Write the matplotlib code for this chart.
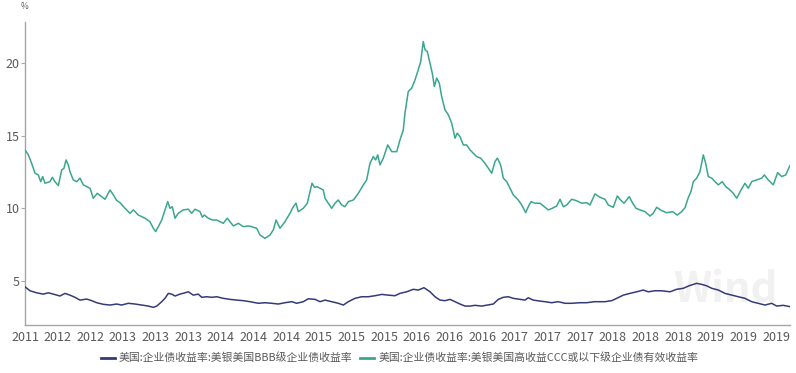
import matplotlib
matplotlib.use("Agg")
import matplotlib.pyplot as plt
import numpy as np

plt.rcParams['font.family'] = ['Noto Sans CJK SC', 'DejaVu Sans']

# ---- data (dates as decimal years, values in %) ----
ccc_year = [
    2012.045, 2012.079, 2012.113, 2012.147, 2012.181, 2012.205, 2012.226, 2012.249, 2012.300, 2012.324,
    2012.351, 2012.385, 2012.420, 2012.443, 2012.464, 2012.487, 2012.504, 2012.538, 2012.573, 2012.607,
    2012.640, 2012.675, 2012.709, 2012.742, 2012.783, 2012.828, 2012.862, 2012.913, 2012.947, 2012.981,
    2013.015, 2013.066, 2013.117, 2013.151, 2013.202, 2013.270, 2013.321, 2013.355, 2013.379, 2013.406,
    2013.441, 2013.474, 2013.502, 2013.525, 2013.549, 2013.576, 2013.610, 2013.661, 2013.712, 2013.747,
    2013.781, 2013.832, 2013.855, 2013.876, 2013.916, 2013.960, 2014.002, 2014.069, 2014.110, 2014.172,
    2014.223, 2014.274, 2014.325, 2014.359, 2014.410, 2014.444, 2014.495, 2014.546, 2014.580, 2014.608,
    2014.648, 2014.699, 2014.750, 2014.784, 2014.812, 2014.835, 2014.886, 2014.927, 2014.955, 2014.975,
    2015.000, 2015.023, 2015.057, 2015.090, 2015.108, 2015.141, 2015.176, 2015.210, 2015.243, 2015.278,
    2015.312, 2015.346, 2015.397, 2015.448, 2015.499, 2015.533, 2015.567, 2015.601, 2015.625, 2015.646,
    2015.669, 2015.703, 2015.748, 2015.789, 2015.840, 2015.873, 2015.907, 2015.924, 2015.958, 2015.993,
    2016.027, 2016.060, 2016.085, 2016.111, 2016.129, 2016.152, 2016.180, 2016.203, 2016.224, 2016.248,
    2016.275, 2016.299, 2016.333, 2016.367, 2016.401, 2016.435, 2016.458, 2016.486, 2016.520, 2016.554,
    2016.588, 2016.622, 2016.656, 2016.697, 2016.741, 2016.775, 2016.810, 2016.843, 2016.867, 2016.894,
    2016.905, 2016.928, 2016.963, 2016.996, 2017.030, 2017.081, 2017.116, 2017.157, 2017.183, 2017.211,
    2017.252, 2017.303, 2017.354, 2017.387, 2017.428, 2017.473, 2017.507, 2017.541, 2017.575, 2017.626,
    2017.677, 2017.728, 2017.779, 2017.813, 2017.864, 2017.915, 2017.966, 2018.000, 2018.051, 2018.092,
    2018.126, 2018.160, 2018.214, 2018.249, 2018.283, 2018.324, 2018.375, 2018.426, 2018.459, 2018.494,
    2018.545, 2018.596, 2018.657, 2018.704, 2018.749, 2018.783, 2018.817, 2018.844, 2018.868, 2018.902,
    2018.936, 2018.970, 2018.994, 2019.021, 2019.056, 2019.089, 2019.123, 2019.164, 2019.198, 2019.242,
    2019.276, 2019.311, 2019.355, 2019.395, 2019.429, 2019.464, 2019.515, 2019.566, 2019.593, 2019.633,
    2019.684, 2019.729, 2019.770, 2019.811, 2019.855,
]
ccc_yield = [
    14.02, 13.68, 13.10, 12.42, 12.30, 11.84, 12.19, 11.73, 11.84, 12.14,
    11.84, 11.57, 12.65, 12.76, 13.33, 12.99, 12.53, 11.96, 11.84, 12.08,
    11.62, 11.50, 11.39, 10.70, 11.04, 10.81, 10.63, 11.27, 10.93, 10.55,
    10.40, 10.01, 9.67, 9.90, 9.55, 9.33, 9.09, 8.64, 8.41, 8.75,
    9.21, 9.90, 10.47, 10.01, 10.12, 9.33, 9.67, 9.90, 9.95, 9.67,
    9.95, 9.78, 9.40, 9.55, 9.33, 9.21, 9.21, 8.98, 9.33, 8.80,
    8.98, 8.75, 8.80, 8.75, 8.64, 8.18, 7.95, 8.18, 8.52, 9.21,
    8.64, 9.09, 9.67, 10.12, 10.36, 9.78, 10.01, 10.36, 11.16, 11.73,
    11.45, 11.50, 11.39, 11.27, 10.70, 10.36, 10.01, 10.36, 10.58, 10.24,
    10.12, 10.47, 10.58, 11.04, 11.62, 11.96, 13.10, 13.56, 13.33, 13.68,
    12.99, 13.45, 14.36, 13.90, 13.90, 14.70, 15.39, 16.54, 18.03, 18.26,
    18.83, 19.52, 20.09, 21.46, 20.89, 20.78, 19.98, 19.29, 18.37, 18.95,
    18.60, 17.68, 16.77, 16.43, 15.86, 14.82, 15.17, 14.93, 14.36, 14.36,
    14.02, 13.79, 13.56, 13.45, 13.10, 12.76, 12.42, 13.22, 13.45, 13.10,
    12.87, 12.08, 11.84, 11.39, 10.93, 10.58, 10.24, 9.71, 10.12, 10.47,
    10.36, 10.36, 10.08, 9.90, 10.01, 10.17, 10.63, 10.12, 10.24, 10.63,
    10.53, 10.36, 10.40, 10.24, 11.00, 10.77, 10.63, 10.24, 10.08, 10.86,
    10.58, 10.36, 10.81, 10.36, 10.01, 9.90, 9.78, 9.48, 9.67, 10.08,
    9.85, 9.71, 9.78, 9.55, 9.78, 10.05, 10.75, 11.16, 11.84, 12.08,
    12.53, 13.68, 13.10, 12.19, 12.08, 11.84, 11.62, 11.84, 11.50, 11.27,
    11.04, 10.70, 11.27, 11.73, 11.39, 11.84, 11.96, 12.08, 12.30, 11.96,
    11.62, 12.46, 12.19, 12.30, 12.95,
]

bbb_year = [
    2012.045, 2012.096, 2012.164, 2012.232, 2012.283, 2012.334, 2012.402, 2012.453, 2012.504, 2012.555,
    2012.607, 2012.675, 2012.726, 2012.777, 2012.844, 2012.913, 2012.981, 2013.032, 2013.100, 2013.168,
    2013.236, 2013.304, 2013.355, 2013.390, 2013.441, 2013.474, 2013.508, 2013.543, 2013.576, 2013.627,
    2013.678, 2013.712, 2013.763, 2013.814, 2013.849, 2013.900, 2013.951, 2014.002, 2014.069, 2014.138,
    2014.206, 2014.274, 2014.342, 2014.427, 2014.495, 2014.564, 2014.631, 2014.699, 2014.768, 2014.819,
    2014.886, 2014.937, 2015.006, 2015.057, 2015.108, 2015.176, 2015.243, 2015.295, 2015.346, 2015.414,
    2015.482, 2015.550, 2015.618, 2015.687, 2015.754, 2015.822, 2015.873, 2015.942, 2016.009, 2016.060,
    2016.118, 2016.180, 2016.231, 2016.282, 2016.333, 2016.384, 2016.435, 2016.486, 2016.537, 2016.588,
    2016.639, 2016.707, 2016.765, 2016.826, 2016.877, 2016.928, 2016.979, 2017.030, 2017.098, 2017.150,
    2017.183, 2017.234, 2017.303, 2017.354, 2017.422, 2017.489, 2017.558, 2017.626, 2017.711, 2017.779,
    2017.857, 2017.915, 2017.966, 2018.035, 2018.086, 2018.153, 2018.221, 2018.290, 2018.357, 2018.408,
    2018.477, 2018.545, 2018.630, 2018.698, 2018.766, 2018.827, 2018.902, 2018.953, 2019.004, 2019.056,
    2019.123, 2019.191, 2019.260, 2019.327, 2019.395, 2019.464, 2019.531, 2019.600, 2019.668, 2019.719,
    2019.786, 2019.855,
]
bbb_yield = [
    4.62, 4.35, 4.21, 4.12, 4.21, 4.12, 3.99, 4.17, 4.05, 3.90,
    3.71, 3.78, 3.67, 3.53, 3.42, 3.37, 3.44, 3.37, 3.49, 3.44,
    3.37, 3.30, 3.21, 3.30, 3.60, 3.83, 4.17, 4.12, 3.99, 4.12,
    4.21, 4.28, 4.05, 4.12, 3.90, 3.94, 3.90, 3.94, 3.83, 3.76,
    3.71, 3.67, 3.60, 3.49, 3.53, 3.49, 3.44, 3.53, 3.60, 3.49,
    3.60, 3.80, 3.76, 3.60, 3.71, 3.60, 3.49, 3.37, 3.60, 3.83,
    3.94, 3.94, 4.01, 4.10, 4.05, 4.01, 4.17, 4.28, 4.45, 4.40,
    4.56, 4.28, 3.94, 3.71, 3.67, 3.76, 3.60, 3.44, 3.30, 3.30,
    3.35, 3.30, 3.37, 3.44, 3.76, 3.90, 3.94, 3.83, 3.76, 3.71,
    3.87, 3.71, 3.64, 3.60, 3.53, 3.60, 3.49, 3.49, 3.53, 3.53,
    3.60, 3.60, 3.60, 3.67, 3.83, 4.05, 4.17, 4.28, 4.40, 4.28,
    4.35, 4.35, 4.28, 4.45, 4.52, 4.70, 4.86, 4.79, 4.69, 4.52,
    4.40, 4.17, 4.05, 3.94, 3.83, 3.60, 3.49, 3.37, 3.49, 3.30,
    3.35, 3.26,
]

tick_labels = ['2011', '2012', '2012', '2013', '2013', '2013', '2014', '2014', '2014',
               '2015', '2015', '2015', '2016', '2016', '2016', '2017', '2017', '2017',
               '2018', '2018', '2018', '2019', '2019', '2019']
y_ticks = [5, 10, 15, 20]

bbb_name = '美国:企业债收益率:美银美国BBB级企业债收益率'
ccc_name = '美国:企业债收益率:美银美国高收益CCC或以下级企业债有效收益率'

navy = '#343c78'
teal = '#3ba68e'
grey_txt = '#595959'
axis_col = '#a6a6a6'

fig = plt.figure(figsize=(7.96, 3.73), dpi=100)
ax = fig.add_axes([25 / 796, 1 - 325 / 373, 765 / 796, 303 / 373])

ax.plot(bbb_year, bbb_yield, color=navy, lw=1.1, label=bbb_name, zorder=3)
ax.plot(ccc_year, ccc_yield, color=teal, lw=1.1, label=ccc_name, zorder=3)

x0, x1 = ccc_year[0], ccc_year[-1]
ax.set_xlim(x0, x1)
ax.set_ylim(2, 22.8)

tick_pos = [x0 + k / 3 for k in range(len(tick_labels))]
ax.set_xticks(tick_pos)
ax.set_xticklabels(tick_labels)
ax.set_yticks(y_ticks)
ax.set_yticklabels([str(v) for v in y_ticks])

for s in ['top', 'right']:
    ax.spines[s].set_visible(False)
for s in ['left', 'bottom']:
    ax.spines[s].set_color(axis_col)
    ax.spines[s].set_linewidth(1.0)

ax.tick_params(axis='x', length=0, pad=4, labelsize=9, labelcolor=grey_txt)
ax.tick_params(axis='y', length=3, width=0.8, color=axis_col, pad=1,
               labelsize=9, labelcolor=grey_txt)

ax.text(0.0, 1.035, '%', transform=ax.transAxes, fontsize=6, color=grey_txt,
        ha='center', va='bottom')

# faint watermark
ax.text(0.915, 0.115, 'Wind', transform=ax.transAxes, fontsize=30, fontweight='bold',
        color='#f1f1f1', ha='center', va='center', zorder=1)

leg = fig.legend(loc='center', bbox_to_anchor=(0.502, 1 - 358 / 373),
                 ncol=2, frameon=False, fontsize=7.8, handlelength=1.3, handletextpad=0.4,
                 columnspacing=0.7, labelcolor=grey_txt)
for line in leg.get_lines():
    line.set_linewidth(2.0)

fig.savefig('out.png', dpi=100)
